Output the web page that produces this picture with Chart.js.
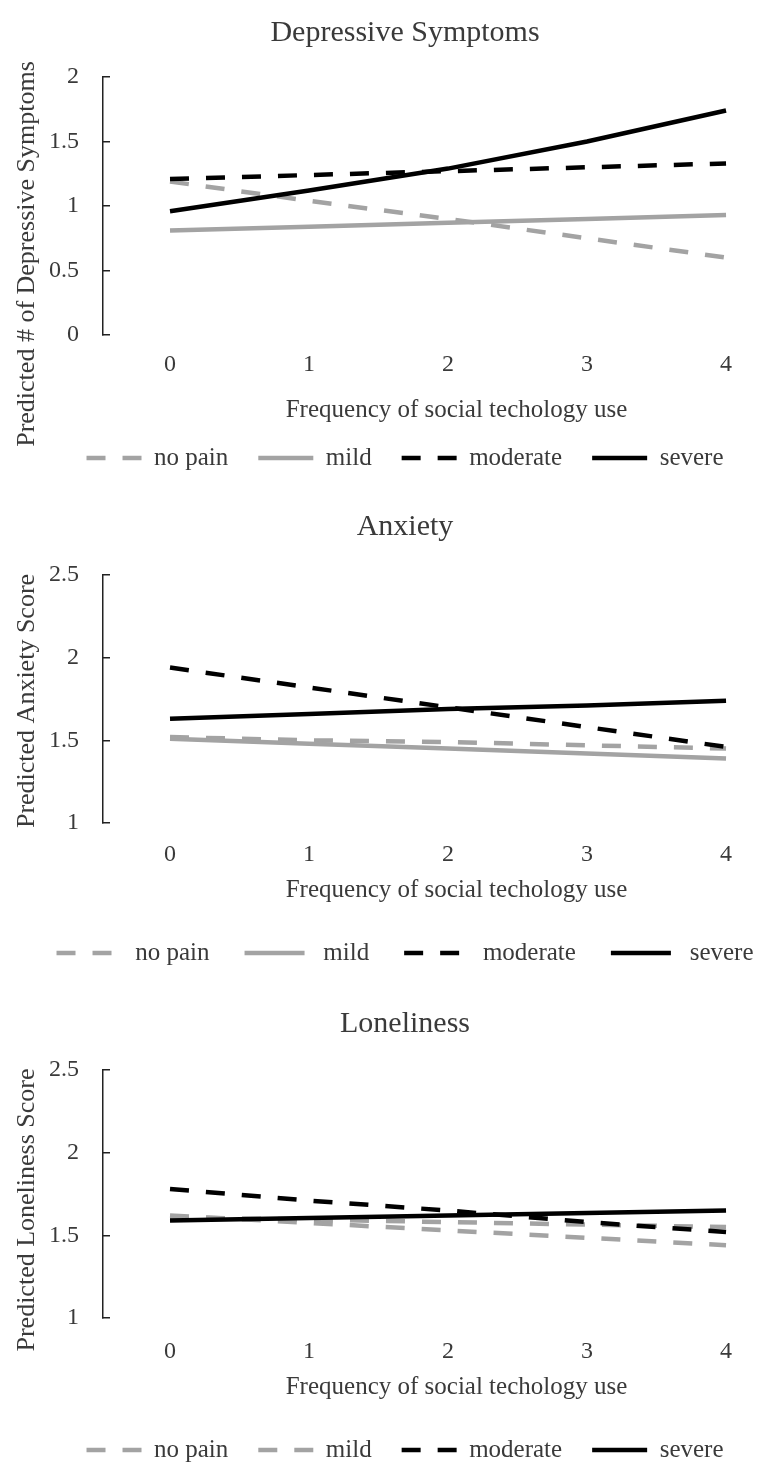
<!DOCTYPE html>
<html>
<head>
<meta charset="utf-8">
<script src="https://cdn.jsdelivr.net/npm/chart.js@4.4.1/dist/chart.umd.min.js"></script>
<style>
  html, body { margin: 0; background: #fff; overflow: hidden; width: 760px; }
  canvas { display: block; }
</style>
</head>
<body>
<canvas id="graficoDepressao" width="810" height="490"></canvas>
<canvas id="graficoAnsiedade" width="810" height="490"></canvas>
<canvas id="graficoSolidao" width="810" height="488"></canvas>
<script>
// dados
const frequencia = [0, 1, 2, 3, 4];
const grupos = ['no pain', 'mild', 'moderate', 'severe'];

const depNoPain = [1.19, 1.04, 0.90, 0.75, 0.60];
const depMild = [0.81, 0.84, 0.87, 0.90, 0.93];
const depModerate = [1.21, 1.24, 1.27, 1.30, 1.33];
const depSevere = [0.96, 1.12, 1.29, 1.50, 1.74];

const anxNoPain = [1.52, 1.50, 1.49, 1.47, 1.45];
const anxMild = [1.51, 1.48, 1.45, 1.42, 1.39];
const anxModerate = [1.94, 1.82, 1.70, 1.58, 1.46];
const anxSevere = [1.63, 1.66, 1.69, 1.71, 1.74];

const lonNoPain = [1.62, 1.575, 1.53, 1.485, 1.44];
const lonMild = [1.61, 1.595, 1.58, 1.565, 1.55];
const lonModerate = [1.78, 1.71, 1.65, 1.58, 1.52];
const lonSevere = [1.59, 1.605, 1.62, 1.635, 1.65];

const yTicksDep = [0, 0.5, 1, 1.5, 2];
const yTicksAnx = [1, 1.5, 2, 2.5];
const yTicksLon = [1, 1.5, 2, 2.5];

const cinza = '#a3a3a3';
const preto = '#000000';
const corTexto = '#3a3a3a';
const serif = "'Liberation Serif', 'Times New Roman', serif";

Chart.defaults.font.family = serif;

// titulo do eixo y desenhado a mao (centralizado como no Excel)
const tituloY = {
    id: 'tituloY',
    afterDraw(chart, args, opts) {
        const ctx = chart.ctx;
        ctx.save();
        ctx.translate(opts.x, opts.y);
        ctx.rotate(-Math.PI / 2);
        ctx.font = '26px ' + serif;
        ctx.fillStyle = corTexto;
        ctx.textAlign = 'center';
        ctx.textBaseline = 'middle';
        ctx.fillText(opts.text, 0, 0);
        ctx.restore();
    }
};

function serie(label, valores, cor, tracejado, ordem) {
    return {
        label: label,
        data: frequencia.map((f, i) => ({ x: f, y: valores[i] })),
        borderColor: cor,
        backgroundColor: cor,
        borderWidth: 4.5,
        borderDash: tracejado ? [19, 17] : [],
        pointRadius: 0,
        tension: 0,
        fill: false,
        order: ordem
    };
}

function criaGrafico(id, cfg) {
    return new Chart(document.getElementById(id), {
        type: 'line',
        data: { datasets: cfg.series },
        options: {
            responsive: false,
            animation: false,
            layout: { padding: { left: 0, right: 0, top: 0, bottom: cfg.padBaixo } },
            scales: {
                x: {
                    type: 'linear',
                    min: -0.482,
                    max: 4.604,
                    afterBuildTicks: eixo => { eixo.ticks = frequencia.map(v => ({ value: v })); },
                    grid: { display: false, drawTicks: false },
                    border: { display: false },
                    ticks: { padding: cfg.padTicksX, color: corTexto, font: { size: 24 }, callback: v => String(v) },
                    title: {
                        display: true,
                        text: 'Frequency of social techology use',
                        color: corTexto,
                        font: { size: 25 },
                        padding: cfg.padTituloX
                    }
                },
                y: {
                    min: cfg.yMin,
                    max: cfg.yMax,
                    afterBuildTicks: eixo => { eixo.ticks = cfg.yTicks.map(v => ({ value: v })); },
                    afterFit: eixo => { eixo.width = 103; },
                    grid: { display: true, drawOnChartArea: false, drawTicks: true, tickLength: -7, color: '#222', lineWidth: 1.5 },
                    border: { display: true, color: '#222', width: 1.5 },
                    ticks: { padding: 31, color: corTexto, font: { size: 24 }, callback: v => String(v) }
                }
            },
            plugins: {
                title: {
                    display: true,
                    text: cfg.titulo,
                    color: corTexto,
                    font: { size: 30, weight: 'normal' },
                    padding: cfg.padTitulo
                },
                legend: {
                    position: 'bottom',
                    reverse: true,
                    maxHeight: cfg.alturaLegenda,
                    labels: {
                        usePointStyle: true,
                        pointStyle: 'line',
                        pointStyleWidth: cfg.larguraAmostra,
                        padding: cfg.padLegenda,
                        color: corTexto,
                        font: { size: 25 },
                        generateLabels: chart => {
                            const itens = Chart.defaults.plugins.legend.labels.generateLabels(chart);
                            itens.forEach(it => {
                                const ds = chart.data.datasets[it.datasetIndex];
                                it.text = cfg.prefixo + it.text;
                                it.lineDash = ds.borderDash;
                                it.lineWidth = ds.borderWidth;
                                it.strokeStyle = ds.borderColor;
                            });
                            return itens;
                        }
                    }
                },
                tooltip: { enabled: false },
                tituloY: { text: cfg.tituloY, x: 27, y: cfg.tituloYPos }
            }
        },
        plugins: [tituloY]
    });
}

criaGrafico('graficoDepressao', {
    titulo: 'Depressive Symptoms',
    tituloY: 'Predicted # of Depressive Symptoms',
    tituloYPos: 254,
    yMin: 0, yMax: 2, yTicks: yTicksDep,
    padBaixo: 9.5,
    padTitulo: { top: 15, bottom: 26 },
    padTicksX: 15.6,
    padTituloX: { top: 0, bottom: -9.5 },
    padLegenda: 30,
    alturaLegenda: 200,
    larguraAmostra: 55,
    prefixo: '',
    series: [
        serie(grupos[0], depNoPain, cinza, true, 3),
        serie(grupos[1], depMild, cinza, false, 2),
        serie(grupos[2], depModerate, preto, true, 1),
        serie(grupos[3], depSevere, preto, false, 0)
    ]
});

criaGrafico('graficoAnsiedade', {
    titulo: 'Anxiety',
    tituloY: 'Predicted Anxiety Score',
    tituloYPos: 211,
    yMin: 1, yMax: 2.5, yTicks: yTicksAnx,
    padBaixo: 4.5,
    padTitulo: { top: 19, bottom: 30 },
    padTicksX: 17.6,
    padTituloX: { top: -12, bottom: 0.5 },
    padLegenda: 35,
    alturaLegenda: 200,
    larguraAmostra: 60,
    prefixo: ' ',
    series: [
        serie(grupos[0], anxNoPain, cinza, true, 3),
        serie(grupos[1], anxMild, cinza, false, 2),
        serie(grupos[2], anxModerate, preto, true, 1),
        serie(grupos[3], anxSevere, preto, false, 0)
    ]
});

criaGrafico('graficoSolidao', {
    titulo: 'Loneliness',
    tituloY: 'Predicted Loneliness Score',
    tituloYPos: 230,
    yMin: 1, yMax: 2.5, yTicks: yTicksLon,
    padBaixo: 0,
    padTitulo: { top: 26, bottom: 28 },
    padTicksX: 19.6,
    padTituloX: { top: -14, bottom: 5.5 },
    padLegenda: 30,
    alturaLegenda: 60.5,
    larguraAmostra: 55,
    prefixo: '',
    series: [
        serie(grupos[0], lonNoPain, cinza, true, 3),
        serie(grupos[1], lonMild, cinza, true, 2),
        serie(grupos[2], lonModerate, preto, true, 1),
        serie(grupos[3], lonSevere, preto, false, 0)
    ]
});
</script>
</body>
</html>
